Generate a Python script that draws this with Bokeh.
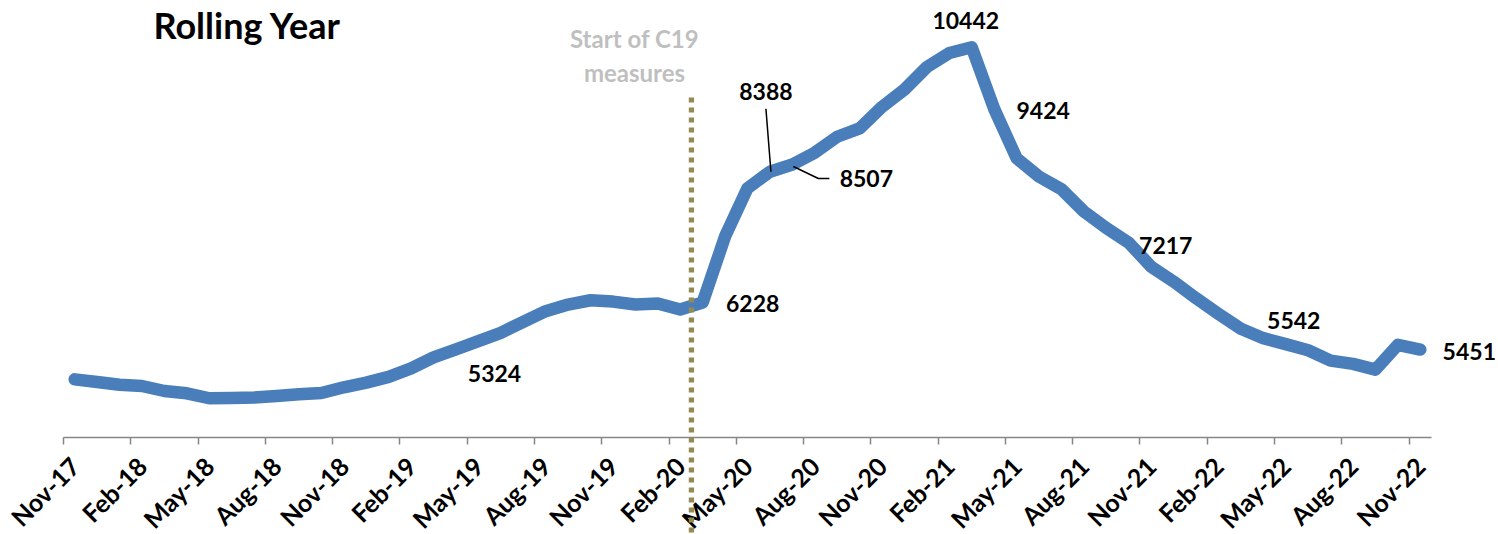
import math
from bokeh.plotting import figure
from bokeh.models import (ColumnDataSource, Range1d, FixedTicker, Label, Arrow)
from bokeh.embed import file_html
from bokeh.resources import INLINE

# ---------------- data ----------------
months = ["Nov-17", "Dec-17", "Jan-18", "Feb-18", "Mar-18", "Apr-18", "May-18",
          "Jun-18", "Jul-18", "Aug-18", "Sep-18", "Oct-18", "Nov-18", "Dec-18", "Jan-19",
          "Feb-19", "Mar-19", "Apr-19", "May-19", "Jun-19", "Jul-19", "Aug-19", "Sep-19",
          "Oct-19", "Nov-19", "Dec-19", "Jan-20", "Feb-20", "Mar-20", "Apr-20", "May-20",
          "Jun-20", "Jul-20", "Aug-20", "Sep-20", "Oct-20", "Nov-20", "Dec-20", "Jan-21",
          "Feb-21", "Mar-21", "Apr-21", "May-21", "Jun-21", "Jul-21", "Aug-21", "Sep-21",
          "Oct-21", "Nov-21", "Dec-21", "Jan-22", "Feb-22", "Mar-22", "Apr-22", "May-22",
          "Jun-22", "Jul-22", "Aug-22", "Sep-22", "Oct-22", "Nov-22"]
rolling_year = [4960, 4915, 4872, 4850, 4768, 4730, 4648,
                4653, 4659, 4686, 4714, 4735, 4829, 4906, 5000,
                5140, 5324, 5454, 5591, 5729, 5910, 6085, 6195,
                6266, 6244, 6195, 6212, 6113, 6228, 7319, 8116,
                8388, 8507, 8702, 8965, 9103, 9459, 9745, 10117,
                10348, 10442, 9424, 8610, 8307, 8099, 7731, 7458,
                7217, 6820, 6574, 6300, 6042, 5795, 5640, 5542,
                5440, 5270, 5215, 5120, 5530, 5451]
tick_months = ["Nov-17", "Feb-18", "May-18", "Aug-18", "Nov-18", "Feb-19", "May-19",
               "Aug-19", "Nov-19", "Feb-20", "May-20", "Aug-20", "Nov-20", "Feb-21",
               "May-21", "Aug-21", "Nov-21", "Feb-22", "May-22", "Aug-22", "Nov-22"]
labelled = ["Mar-19", "Mar-20", "Jun-20", "Jul-20", "Mar-21", "Apr-21", "Oct-21", "May-22", "Nov-22"]
c19_start = "Mar-20"

# ---------------- geometry ----------------
W, H = 1498, 534
N_SLOTS = len(months)                   # Nov-17 .. Nov-22, one slot per month
Y0, Y1 = 4000, 11000
AX_L, AX_R = 63, 1431                   # pixel extent of the category axis
AX_B, AX_T = 437, 13                    # pixel rows of Y0 and Y1
SX = N_SLOTS / (AX_R - AX_L)            # slot units per pixel
SY = (Y1 - Y0) / (AX_B - AX_T)          # value units per pixel


def px2x(px):
    return (px - AX_L) * SX


def px2y(py):
    return Y0 + (AX_B - py) * SY


def slot_x(month):
    # month centred inside its slot (axis "between tick marks")
    return months.index(month) + 0.5


xs = [slot_x(m) for m in months]
src = ColumnDataSource(dict(x=xs, y=rolling_year, month=months))

p = figure(width=W, height=H, output_backend="svg", toolbar_location=None,
           x_range=Range1d(px2x(0), px2x(W)), y_range=Range1d(px2y(H), px2y(0)),
           y_axis_location=None, min_border=0)
p.grid.visible = False
p.outline_line_color = None
p.background_fill_color = "white"
p.border_fill_color = "white"

# x axis: labels at slot centres, tick marks at slot edges
centres = [slot_x(m) for m in tick_months]
edges = [c - 0.5 for c in centres]
ax = p.xaxis[0]
ax.fixed_location = Y0
ax.bounds = (0, N_SLOTS)
ax.ticker = FixedTicker(ticks=centres, minor_ticks=edges)
ax.major_label_overrides = {c: t for c, t in zip(centres, tick_months)}
ax.major_label_orientation = math.pi / 4
ax.major_tick_line_color = None
ax.minor_tick_line_color = "#868686"
ax.minor_tick_line_width = 1.5
ax.minor_tick_in = 0
ax.minor_tick_out = 7
ax.axis_line_color = "#868686"
ax.axis_line_width = 1.5
ax.major_label_text_font = "Lato"
ax.major_label_text_font_style = "bold"
ax.major_label_text_font_size = "25px"
ax.major_label_text_color = "black"
ax.major_label_standoff = 17

# C19 start dotted line (extends below the axis)
xc = months.index(c19_start)
p.add_layout(Arrow(x_start=xc, y_start=px2y(97), x_end=xc, y_end=px2y(H + 10),
                   end=None, line_color="#948A54", line_width=5.3, line_dash="5 5"))

# main line
p.line("x", "y", source=src, line_color="#4A7EBB", line_width=12.5,
       line_join="round", line_cap="round")

# leader lines for 8388 and 8507
i31 = months.index("Jun-20")
i32 = months.index("Jul-20")
p.line([xs[i31] - 4 * SX, xs[i31] + 1 * SX],
       [rolling_year[i31] + 63 * SY, rolling_year[i31]],
       line_color="black", line_width=1.5)
p.line([xs[i32] + 1 * SX, xs[i32] + 26 * SX, xs[i32] + 37 * SX],
       [rolling_year[i32] - 2 * SY, rolling_year[i32] - 14 * SY, rolling_year[i32] - 14 * SY],
       line_color="black", line_width=1.5)

# data labels (pixel offsets from their point)
offsets = {"Mar-19": (61, -16), "Mar-20": (50, -1), "Jun-20": (-4, 80), "Jul-20": (74, -14),
           "Mar-21": (-6, 27), "Apr-21": (49, -2), "Oct-21": (37, -3), "May-22": (8, 24),
           "Nov-22": (49, -2)}
for m in labelled:
    i = months.index(m)
    dx, dy = offsets[m]
    p.add_layout(Label(x=xs[i], y=rolling_year[i], x_offset=dx, y_offset=dy,
                       text=str(rolling_year[i]), text_align="center", text_baseline="middle",
                       text_font="Lato", text_font_style="bold", text_font_size="23px",
                       text_color="black"))

# title
p.add_layout(Label(x=px2x(153), y=px2y(24), text="Rolling Year",
                   text_align="left", text_baseline="middle", text_font="Lato",
                   text_font_style="bold", text_font_size="36px", text_color="black"))

# annotation text
for txt, yy in (("Start of C19", 38), ("measures", 72)):
    p.add_layout(Label(x=px2x(634), y=px2y(yy), text=txt,
                       text_align="center", text_baseline="middle", text_font="Lato",
                       text_font_style="bold", text_font_size="24px", text_color="#BFBFBF"))

open("out.html", "w").write(file_html(p, INLINE))
